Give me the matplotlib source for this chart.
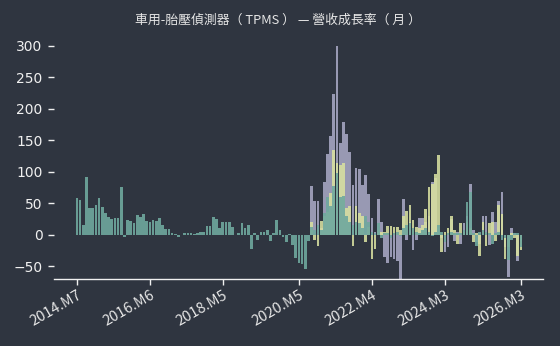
import matplotlib
matplotlib.use("Agg")
import matplotlib.pyplot as plt
import numpy as np

# Month labels for ticks
tick_labels = ["2014.M7", "2016.M6", "2018.M5", "2020.M5", "2022.M4", "2024.M3", "2026.M3"]
tick_months = [0, 23, 46, 70, 93, 116, 140]  # months since 2014.M7

# Series A (teal) 2014.M7 .. 2026.M3
teal = [58, 55, 16, 91, 42, 42, 47, 58, 44, 35, 28, 25, 27, 26, 75, -4, 23, 22, 18, 31,
        28, 33, 22, 21, 23, 22, 26, 16, 9, 9, 2, 1, -3, -1, 3, 3, 3, 1, 3, 5,
        5, 14, 14, 28, 25, 11, 20, 20, 20, 13, -1, 3, 18, 10, 16, -23, 3, -9, 5, 4,
        8, -10, 3, 24, 7, -3, -12, 1, -16, -37, -45, -46, -55, -10,
        12, 8, 15, 8, 34, 60, 45, 77, 98, 60, 61, 30, 20, 15, 20, 19, 10, 30, 20, 5,
        3, 19, -5, 3, 2, -5, 3, 5, -2, 10, 15, 19, 10, 5, 3, 8, 10, 5, -2, 5,
        16, 5, -12, 3, 5, 3, 2, 3, 8, 52, 68, 3, -18, 5, 8, 5, 3, -14, 3, 5,
        -8, -5, -40, -8, 3, 2, -20]

# Series B (lavender) from 2020.M9
lavender = [78, 53, 54, 10, 84, 128, 156, 223, 299, 145, 179, 160, 132, 79, 106, 104, 79, 95, 65, 26,
            5, 57, 20, -35, -45, -35, -38, -41, -70, 57, -8, 20, -24, -8, 26, 27, 20, 30, 84, 90,
            10, -5, -27, -19, 25, -10, 5, -14, 19, 30, 80, 8, -11, -15, 30, 30, -16, 36, 20, 53,
            68, -20, -67, 11, 3, -41, -10]

# Series C (yellow) from 2020.M9
yellow = [20, -8, -18, 22, 30, 36, 67, 135, 114, 110, 114, 42, 45, -18, 45, 34, 30, -11, 13, -38,
          -22, 8, 5, 5, 14, 14, 13, 12, 8, 30, 38, 47, 24, 12, 10, 15, 41, 76, 81, 96,
          127, -27, 5, 10, 30, 8, -14, 19, 5, 20, 10, -11, 3, -33, 20, -18, 19, 20, -10, 47,
          33, -38, -20, 3, -5, -33, -24]

n = len(teal)
x_all = np.arange(n)
x_late = np.arange(n - len(lavender), n)

bg = "#2f3540"
fig = plt.figure(figsize=(5.6, 3.46), dpi=100, facecolor=bg)
ax = fig.add_axes([0.096, 0.194, 0.874, 0.705], facecolor=bg)

w = 0.85
ax.bar(x_late, lavender, width=w, color="#a2a2be", alpha=0.92, zorder=2)
ax.bar(x_late, yellow, width=w, color="#d8e0a0", alpha=0.88, zorder=3)
ax.bar(x_all, teal, width=w, color="#6fa89e", alpha=0.9, zorder=4)

ax.set_xlim(-7.3, 147)
ax.set_ylim(-70, 317)
ax.set_yticks([-50, 0, 50, 100, 150, 200, 250, 300])
ax.set_xticks(tick_months)
ax.set_xticklabels(tick_labels, rotation=30, ha="right", rotation_mode="anchor",
                   fontsize=10.5, color="#e6e6e6", family=["Noto Sans CJK TC", "DejaVu Sans"])
for lab in ax.get_yticklabels():
    lab.set_fontsize(10)
    lab.set_color("#f0f0f0")

for s in ["top", "right", "left"]:
    ax.spines[s].set_visible(False)
ax.spines["bottom"].set_color("#f0f0f0")
ax.spines["bottom"].set_linewidth(1.0)
ax.tick_params(axis="y", colors="#f0f0f0", length=4, width=1, pad=4)
ax.tick_params(axis="x", colors="#f0f0f0", length=4, width=1, pad=3)
for lab in ax.get_xticklabels():
    lab.set_color("#e6e6e6")

fig.text(0.496, 0.942, "車用-胎壓偵測器（ TPMS ） — 營收成長率（ 月 ）", ha="center", va="center",
         fontsize=9.3, color="#e6e6e6", family=["Noto Sans CJK TC", "DejaVu Sans"])

fig.savefig("out.png", dpi=100, facecolor=bg)
